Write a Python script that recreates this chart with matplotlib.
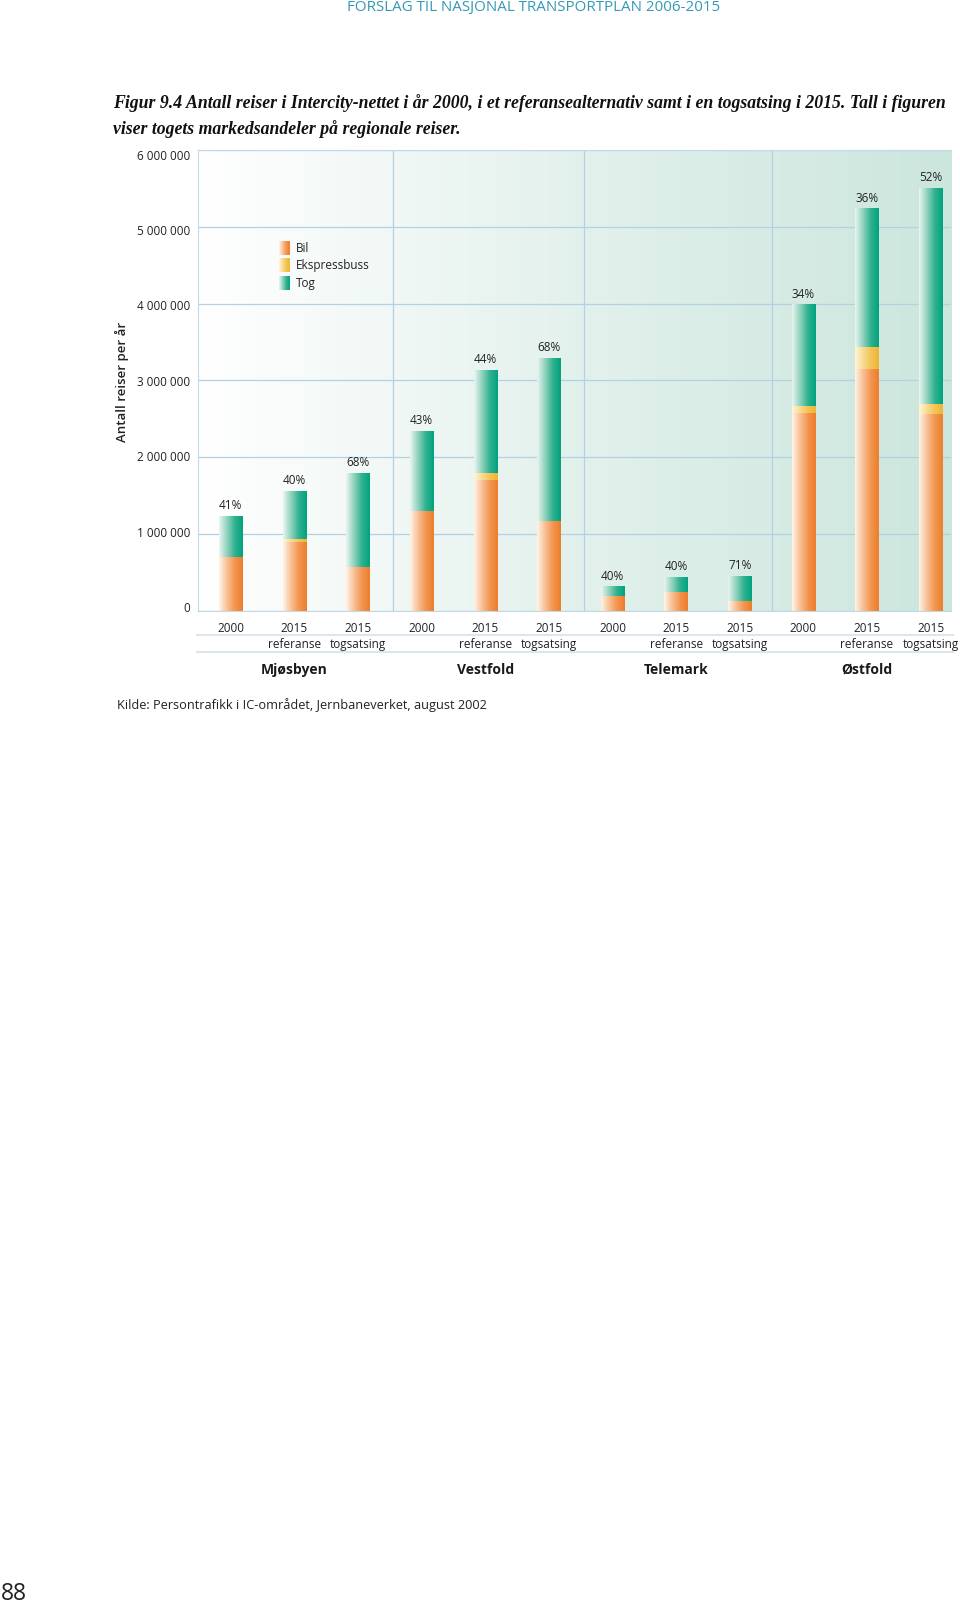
import matplotlib
matplotlib.use('Agg')
import matplotlib.pyplot as plt
from matplotlib.colors import LinearSegmentedColormap
from matplotlib.lines import Line2D
import numpy as np

plt.rcParams['font.family'] = ['Open Sans', 'DejaVu Sans']

# data (reiser per år)
regions = ['Mjøsbyen', 'Vestfold', 'Telemark', 'Østfold']
bar_labels = ['2000', '2015\nreferanse', '2015\ntogsatsing'] * 4
bil = [700000, 890000, 575000, 1300000, 1700000, 1170000,
       190000, 245000, 125000, 2580000, 3145000, 2560000]
buss = [0, 45000, 0, 0, 90000, 0,
        0, 0, 0, 80000, 285000, 135000]
tog = [530000, 620000, 1220000, 1040000, 1340000, 2120000,
       120000, 195000, 325000, 1320000, 1800000, 2805000]
andel = ['41%', '40%', '68%', '43%', '44%', '68%',
         '40%', '40%', '71%', '34%', '36%', '52%']
yticks = [0, 1000000, 2000000, 3000000, 4000000, 5000000, 6000000]
ytick_labels = ['0', '1 000 000', '2 000 000', '3 000 000',
                '4 000 000', '5 000 000', '6 000 000']
legend_names = ['Bil', 'Ekspressbuss', 'Tog']

W, H = 960, 1609
fig = plt.figure(figsize=(W / 100, H / 100), dpi=100)
ax = fig.add_axes([197.7 / W, 1 - 610.7 / H, (951 - 197.7) / W, (610.7 - 150) / H])

cm_bil = LinearSegmentedColormap.from_list('bil', ['#fff4e8', '#f9c197', '#f29550', '#ee7d2b'])
cm_buss = LinearSegmentedColormap.from_list('buss', ['#fff6da', '#f9dc93', '#f3c455', '#efb535'])
cm_tog = LinearSegmentedColormap.from_list('tog', ['#eaf6f1', '#92d2bd', '#2fb28f', '#00a27f'])
cm_bg = LinearSegmentedColormap.from_list('bg', ['#ffffff', '#e3f1ec', '#cbe6dd'])
grad = np.linspace(0, 1, 256).reshape(1, -1)
gridcol = '#b3d1e3'

# background
ax.imshow(grad, extent=[0, 1, 0, 1], transform=ax.transAxes, aspect='auto',
          cmap=cm_bg, zorder=-2)

x = np.arange(len(bil))
width = 0.37
bottom2 = np.array(bil) + np.array(buss)
series = [(bil, np.zeros(len(bil)), cm_bil),
          (buss, np.array(bil), cm_buss),
          (tog, bottom2, cm_tog)]
for vals, bottom, cmap in series:
    bars = ax.bar(x, vals, width, bottom=bottom, color='none', edgecolor='none')
    for r in bars:
        if r.get_height() <= 0:
            continue
        x0, y0 = r.get_x(), r.get_y()
        ax.imshow(grad, extent=[x0, x0 + r.get_width(), y0, y0 + r.get_height()],
                  aspect='auto', cmap=cmap, zorder=2, interpolation='bilinear')

tops = bottom2 + np.array(tog)
for xi, t, lab in zip(x, tops, andel):
    ax.annotate(lab, (xi, t), xytext=(0, 7.8), textcoords='offset points',
                ha='center', va='center', fontsize=8.5, color='#222222')

ax.set_xlim(-0.52, 11.32)
ax.set_ylim(0, 6000000)
ax.set_yticks(yticks)
ax.set_yticklabels([])
# y labels sit a little off the grid lines in the original
for k, (v, lab) in enumerate(zip(yticks, ytick_labels)):
    dy = (6 - 1.3 * (6 - k)) * 0.72
    ax.annotate(lab, (0, v), xycoords=('axes fraction', 'data'),
                xytext=(-5.5, -dy), textcoords='offset points',
                ha='right', va='center', fontsize=8.5, color='#222222')
ax.set_xticks(x)
ax.set_xticklabels(bar_labels)
ax.tick_params(length=0, labelsize=8.5, colors='#222222')
ax.tick_params(axis='x', pad=8)
for t in ax.get_xticklabels():
    t.set_linespacing(1.35)
ax.yaxis.grid(True, color=gridcol, lw=0.9)
for xv in [2.55, 5.55, 8.5]:
    ax.axvline(xv, color=gridcol, lw=0.9, zorder=0.5)
ax.set_axisbelow(True)
for s in ['left', 'top', 'bottom']:
    ax.spines[s].set_color('#c3d9e3')
    ax.spines[s].set_linewidth(0.8)
ax.spines['right'].set_visible(False)

# group names
for i, name in enumerate(regions):
    ax.text(x[3 * i + 1], (610.7 - 670) / 460.7, name, transform=ax.get_xaxis_transform(),
            ha='center', va='center', fontsize=10, fontweight='bold', color='#1a1a1a')

# separator lines under tick labels
for yp in [635, 652.3]:
    fig.add_artist(Line2D([197 / W, 953 / W], [1 - yp / H, 1 - yp / H],
                          transform=fig.transFigure, color='#dbe7ec', lw=1.5))

# legend
leg_cmaps = [cm_bil, cm_buss, cm_tog]
leg_y = [0.7866, 0.7489, 0.7107]
for name, cmap, ly in zip(legend_names, leg_cmaps, leg_y):
    ax.imshow(grad, extent=[0.108, 0.122, ly - 0.0145, ly + 0.0145],
              transform=ax.transAxes, aspect='auto', cmap=cmap, zorder=3)
    ax.text(0.1305, ly, name, transform=ax.transAxes, ha='left', va='center',
            fontsize=8.5, color='#222222')

ax.set_xlim(-0.52, 11.32)
ax.set_ylim(0, 6000000)

fig.text(122 / W, 1 - 381.7 / H, 'Antall reiser per år', rotation=90,
         ha='center', va='center', fontsize=9.5, fontweight='semibold', color='#222222')

fig.text(534 / W, 1 - 8 / H, 'FORSLAG TIL NASJONAL TRANSPORTPLAN 2006-2015',
         ha='center', va='center', fontsize=10.9, color='#3399b5')

cap_font = dict(family='Liberation Serif', fontweight='bold', style='italic',
                fontsize=12.8, color='#111111', ha='left', va='center')
fig.text(113 / W, 1 - 102.6 / H, 'Figur 9.4 Antall reiser i Intercity-nettet i år 2000, '
         'i et referansealternativ samt i en togsatsing i 2015. Tall i figuren', **cap_font)
fig.text(113 / W, 1 - 129.2 / H, 'viser togets markedsandeler på regionale reiser.', **cap_font)

fig.text(117 / W, 1 - 705 / H, 'Kilde: Persontrafikk i IC-området, Jernbaneverket, august 2002',
         ha='left', va='center', fontsize=9.2, color='#222222')

fig.text(1 / W, 1 - 1594 / H, '88', ha='left', va='center', fontsize=16.5, color='#222222')

fig.savefig('out.png', dpi=100)
